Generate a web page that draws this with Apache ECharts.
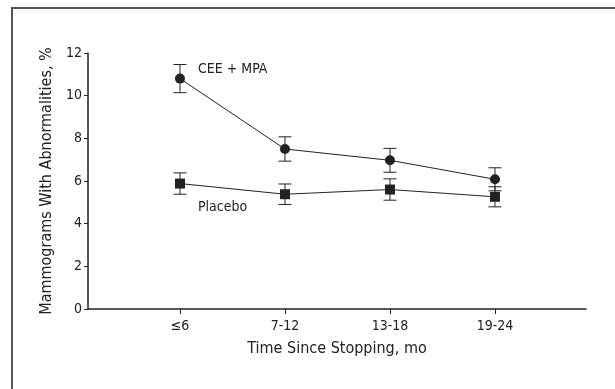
<!DOCTYPE html>
<html>
<head>
<meta charset="utf-8">
<script src="https://cdn.jsdelivr.net/npm/echarts@6/dist/echarts.min.js"></script>
<style>
  html, body { margin: 0; padding: 0; background: #fff; }
  #chart { width: 615px; height: 389px; }
</style>
</head>
<body>
<div id="chart"></div>
<script>
// categories (time since stopping)
var categories = ['\u22646', '7-12', '13-18', '19-24'];
var yTicks = [0, 2, 4, 6, 8, 10, 12];

// CEE + MPA: mean and error half-width
var ceeMpa = [10.8, 7.5, 6.97, 6.08];
var ceeMpaErr = [0.66, 0.57, 0.56, 0.54];

// Placebo
var placebo = [5.88, 5.38, 5.6, 5.26];
var placeboErr = [0.5, 0.48, 0.5, 0.47];

var FONT = "'DejaVu Sans Condensed', 'Liberation Sans Narrow', sans-serif";
var INK = '#222';

function pairs(vals) {
    return vals.map(function (v, i) { return [i, v]; });
}
function errData(vals, errs) {
    return vals.map(function (v, i) { return [i, v - errs[i], v + errs[i]]; });
}

function errorBars(params, api) {
    var x = api.value(0);
    var lo = api.coord([x, api.value(1)]);
    var hi = api.coord([x, api.value(2)]);
    var half = 6.5;
    var style = { stroke: INK, lineWidth: 1, fill: null };
    return {
        type: 'group',
        children: [
            { type: 'line', shape: { x1: lo[0], y1: lo[1], x2: hi[0], y2: hi[1] }, style: style },
            { type: 'line', shape: { x1: hi[0] - half, y1: hi[1], x2: hi[0] + half, y2: hi[1] }, style: style },
            { type: 'line', shape: { x1: lo[0] - half, y1: lo[1], x2: lo[0] + half, y2: lo[1] }, style: style }
        ]
    };
}

var chart = echarts.init(document.getElementById('chart'));

var option = {
    animation: false,
    backgroundColor: '#fff',
    textStyle: { fontFamily: FONT },
    grid: { left: 88, right: 29, top: 53, bottom: 80, containLabel: false },
    xAxis: {
        type: 'value',
        min: -0.876,
        max: 3.867,
        splitLine: { show: false },
        axisLine: { onZero: false, lineStyle: { color: INK, width: 1.5 } },
        axisTick: { show: true, length: 5, lineStyle: { color: INK }, customValues: [0, 1, 2, 3] },
        axisLabel: {
            customValues: [0, 1, 2, 3],
            formatter: function (v) { return categories[Math.round(v)]; },
            color: INK, fontSize: 14, fontFamily: FONT, margin: 10
        },
        name: 'Time Since Stopping, mo',
        nameLocation: 'middle',
        nameGap: 32,
        nameTextStyle: { color: INK, fontSize: 16, fontFamily: FONT }
    },
    yAxis: {
        type: 'value',
        min: yTicks[0],
        max: yTicks[yTicks.length - 1],
        interval: 2,
        splitLine: { show: false },
        axisLine: { show: true, onZero: false, lineStyle: { color: INK, width: 1.5 } },
        axisTick: { show: true, length: 4, lineStyle: { color: INK } },
        axisLabel: { color: INK, fontSize: 14, fontFamily: FONT, margin: 6 },
        name: 'Mammograms With Abnormalities, %',
        nameLocation: 'middle',
        nameGap: 32,
        nameTextStyle: { color: INK, fontSize: 16, fontFamily: FONT }
    },
    graphic: [
        { type: 'line', shape: { x1: 11, y1: 8, x2: 615, y2: 8 }, style: { stroke: '#555', lineWidth: 2 } },
        { type: 'line', shape: { x1: 12, y1: 8, x2: 12, y2: 389 }, style: { stroke: '#555', lineWidth: 2 } },
        { type: 'text', left: 198, top: 62, style: { text: 'CEE + MPA', fill: INK, font: '14px ' + FONT } },
        { type: 'text', left: 198, top: 200, style: { text: 'Placebo', fill: INK, font: '14px ' + FONT } }
    ],
    series: [
        {
            name: 'CEE + MPA err', type: 'custom', renderItem: errorBars,
            data: errData(ceeMpa, ceeMpaErr), z: 1
        },
        {
            name: 'Placebo err', type: 'custom', renderItem: errorBars,
            data: errData(placebo, placeboErr), z: 1
        },
        {
            name: 'CEE + MPA', type: 'line', data: pairs(ceeMpa),
            symbol: 'circle', symbolSize: 10,
            itemStyle: { color: INK },
            lineStyle: { color: INK, width: 1 }, z: 3
        },
        {
            name: 'Placebo', type: 'line', data: pairs(placebo),
            symbol: 'rect', symbolSize: 10,
            itemStyle: { color: INK },
            lineStyle: { color: INK, width: 1 }, z: 3
        }
    ]
};

chart.setOption(option);
</script>
</body>
</html>
